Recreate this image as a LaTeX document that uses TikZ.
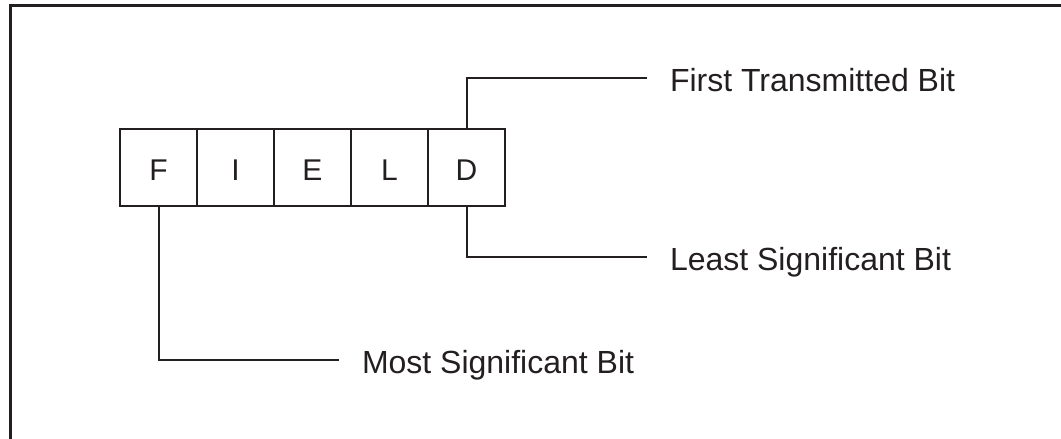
\documentclass[tikz,border=0pt]{standalone}
\usepackage{fontspec}
\setmainfont{Liberation Sans}
\usetikzlibrary{positioning}
\definecolor{ink}{HTML}{231F20}
\tikzstyle{cellNode} = [rectangle, minimum size=38.5pt, inner sep=0pt, outer sep=0pt, draw=ink, line width=1pt, text=ink, text height=12.75pt, text depth=0pt, font=\fontsize{15pt}{18pt}\selectfont]
\tikzstyle{lblNode} = [anchor=west, inner xsep=11.75pt, inner ysep=0pt, outer sep=0pt, text=ink, text height=13.5pt, text depth=0pt, font=\fontsize{16pt}{19pt}\selectfont]
\tikzstyle{connLine} = [line width=1pt, draw=ink]
\tikzstyle{frameLine} = [line width=1.25pt, draw=ink]

\begin{document}
\begin{tikzpicture}
        \useasboundingbox (0,0) rectangle (530.5pt,219.5pt);
        \draw [frameLine] (5.25pt,0) |- (530.5pt,216.75pt);

        \node (cellF) [cellNode] at (79.25pt,135.5pt) {F};
        \node (cellI) [cellNode, right=0pt of cellF] {I};
        \node (cellE) [cellNode, right=0pt of cellI] {E};
        \node (cellL) [cellNode, right=0pt of cellE] {L};
        \node (cellD) [cellNode, right=0pt of cellL] {D};

        \node (first) [lblNode] at ([xshift=90pt, yshift=25.75pt]cellD.north) {First Transmitted Bit};
        \node (least) [lblNode] at ([xshift=90pt, yshift=-25.25pt]cellD.south) {Least Significant Bit};
        \node (most) [lblNode] at ([xshift=90pt, yshift=-76.75pt]cellF.south) {Most Significant Bit};

        \draw [connLine] (cellD.north) |- (first.west);
        \draw [connLine] (cellD.south) |- (least.west);
        \draw [connLine] (cellF.south) |- (most.west);
    \end{tikzpicture}
\end{document}
